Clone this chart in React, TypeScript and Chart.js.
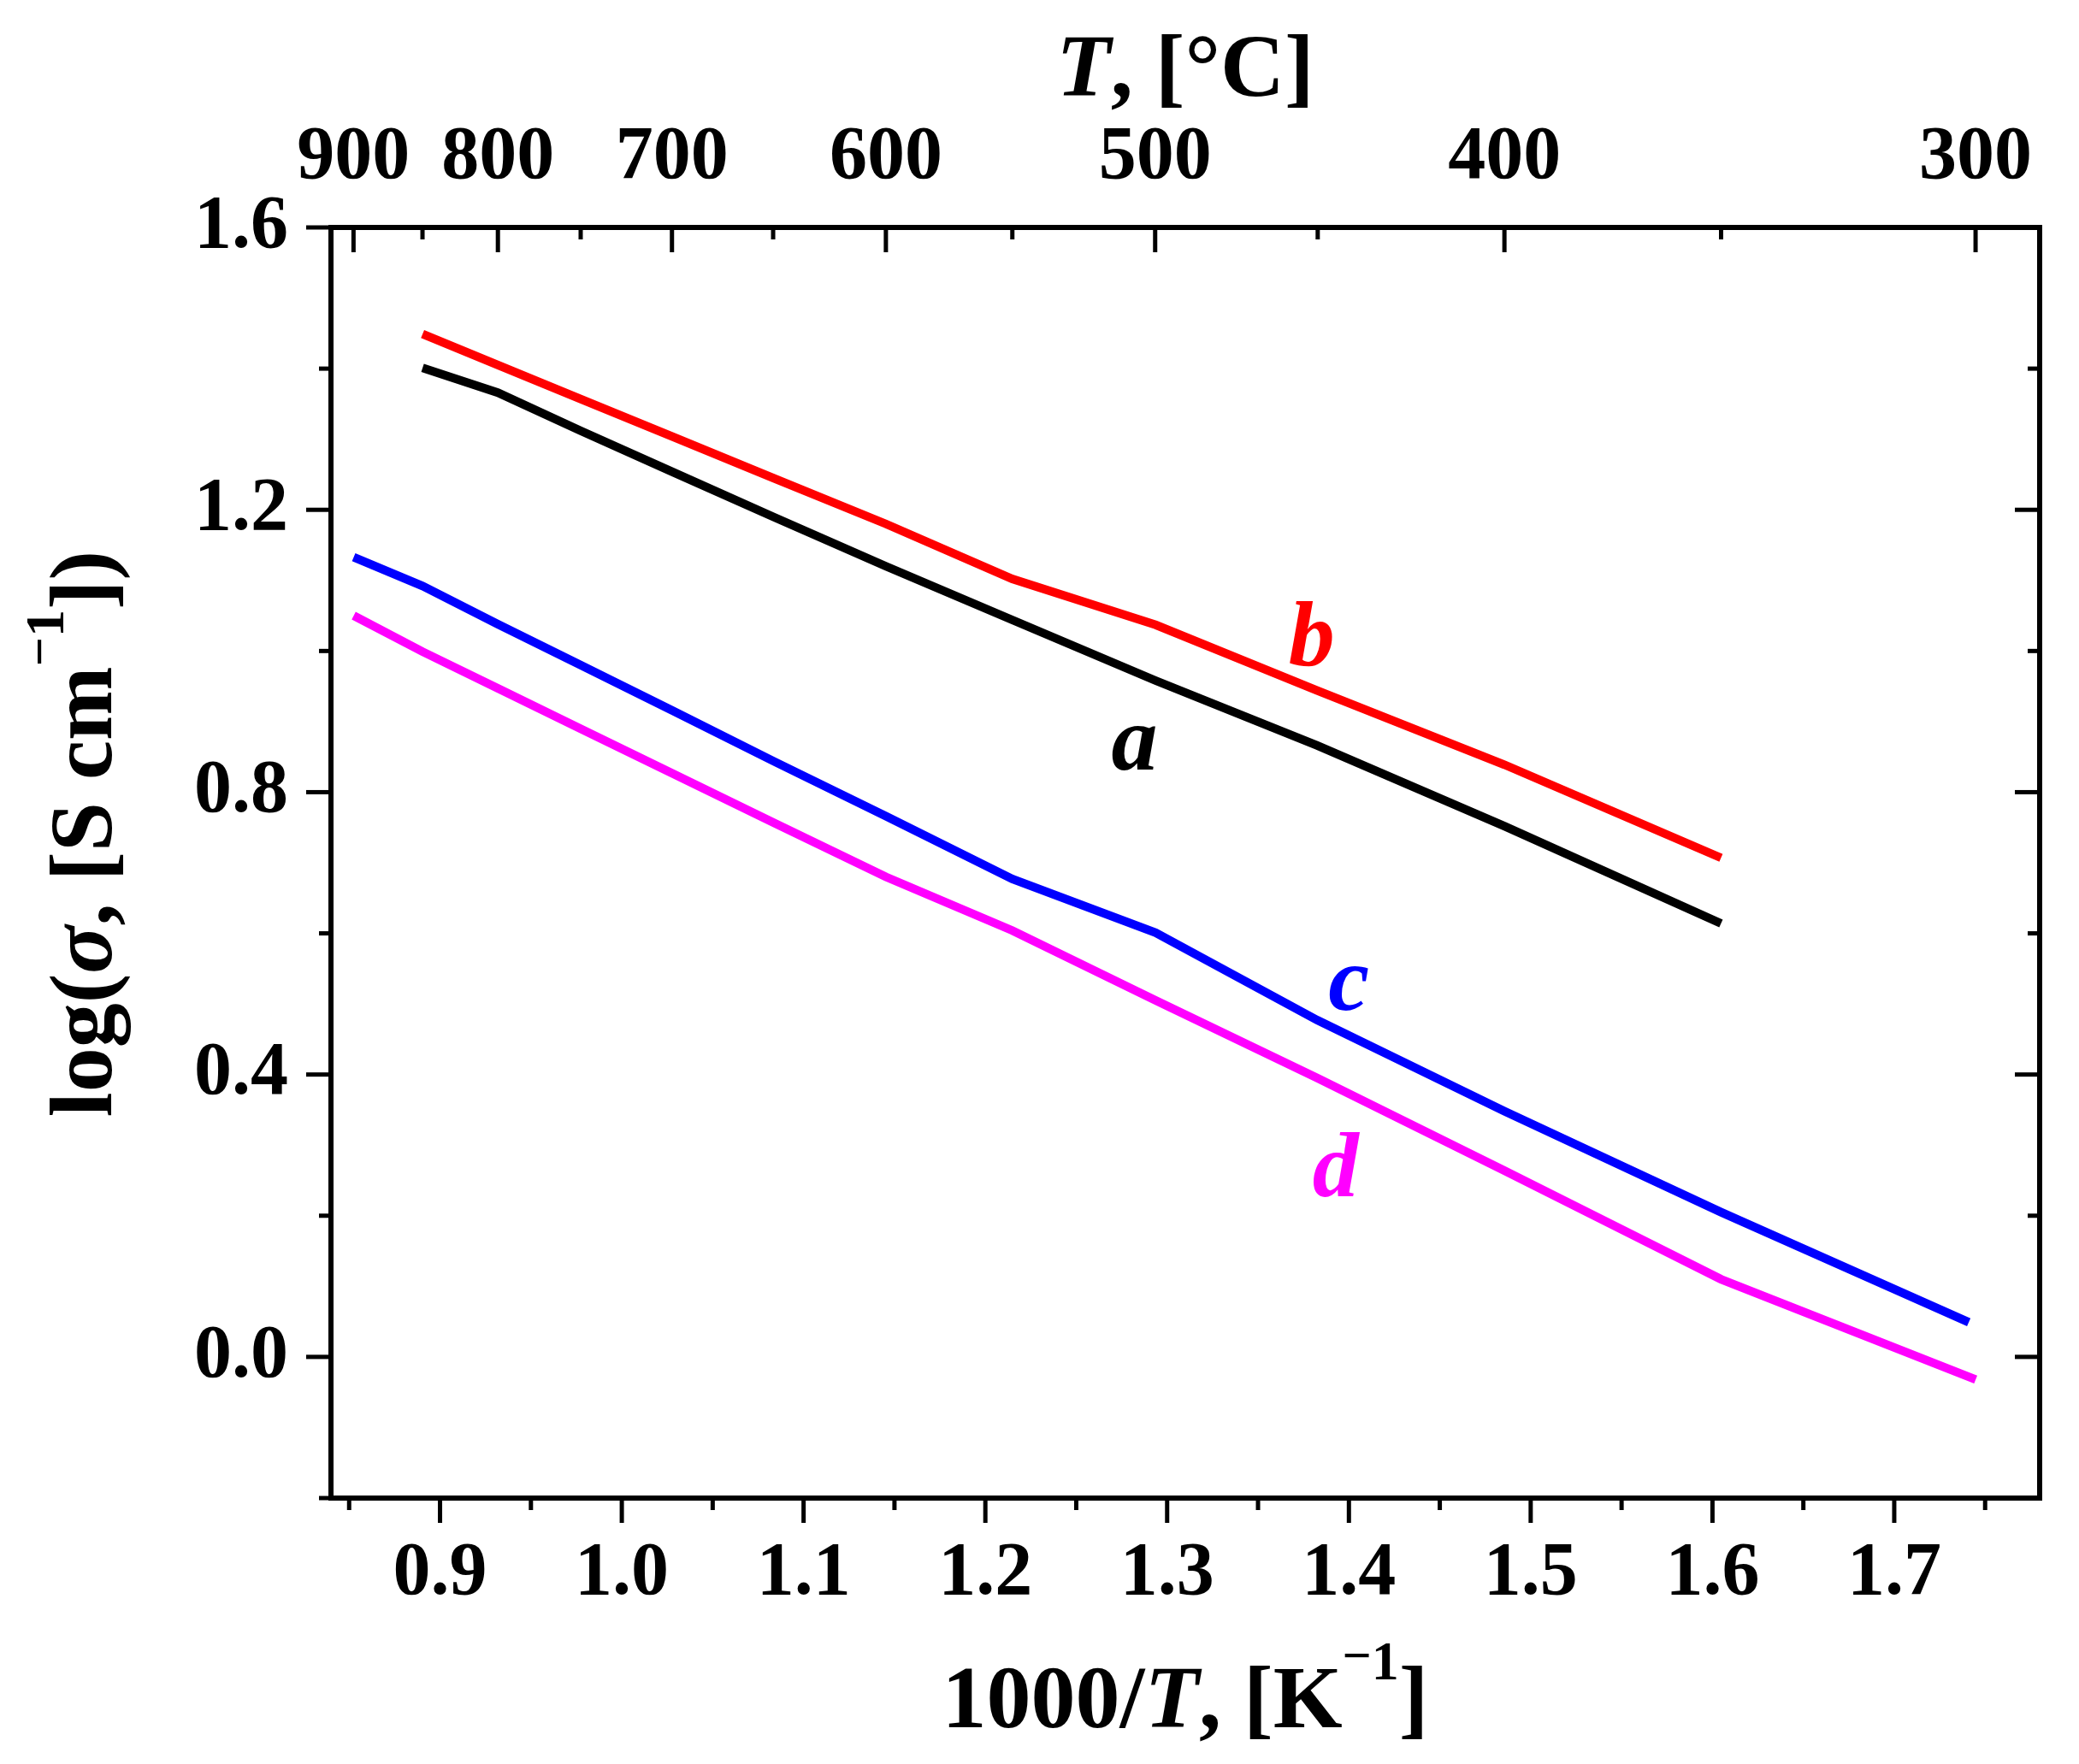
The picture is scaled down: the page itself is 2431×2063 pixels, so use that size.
import React, { useEffect, useRef } from "react";
import { Chart, registerables } from "chart.js";

Chart.register(...registerables);

// ---- data (1000/T in K^-1, log(sigma)) ----
const xAB = [0.8904, 0.9318, 0.9773, 1.0276, 1.0834, 1.1453, 1.2148, 1.2937, 1.3826, 1.4855, 1.6047];
const xC = [0.8525, 0.8904, 0.9318, 0.9773, 1.0276, 1.0834, 1.1453, 1.2148, 1.2937, 1.3826, 1.4855, 1.6047, 1.741];
const xD = [0.8525, 0.8904, 0.9318, 0.9773, 1.0276, 1.0834, 1.1453, 1.2148, 1.2937, 1.3826, 1.4855, 1.6047, 1.7448];

const seriesA = [1.401, 1.366, 1.312, 1.254, 1.19, 1.12, 1.044, 0.958, 0.866, 0.752, 0.614];
const seriesB = [1.449, 1.405, 1.357, 1.304, 1.245, 1.18, 1.102, 1.037, 0.944, 0.839, 0.707];
const seriesC = [1.133, 1.092, 1.038, 0.98, 0.916, 0.844, 0.766, 0.677, 0.601, 0.477, 0.348, 0.205, 0.049];
const seriesD = [1.05, 0.999, 0.947, 0.89, 0.827, 0.757, 0.68, 0.604, 0.505, 0.395, 0.264, 0.11, -0.032];

const seriesNames = ["a", "b", "c", "d"];
const seriesColors = ["#000000", "#ff0000", "#0000ff", "#ff00ff"];
// label anchor (data units): [x, y baseline]
const labelX = [1.282, 1.3795, 1.4, 1.3927];
const labelY = [0.832, 0.98, 0.492, 0.228];

// ---- axes ----
const bottomTicks = [0.9, 1.0, 1.1, 1.2, 1.3, 1.4, 1.5, 1.6, 1.7];
const bottomMinorTicks = [0.85, 0.95, 1.05, 1.15, 1.25, 1.35, 1.45, 1.55, 1.65, 1.75];
const leftTicks = [0.0, 0.4, 0.8, 1.2, 1.6];
const leftMinorTicks = [-0.2, 0.2, 0.6, 1.0, 1.4];
const topTempLabels = [900, 800, 700, 600, 500, 400, 300];
const topTempMinor = [850, 750, 650, 550, 450, 350];

const X_MIN = 0.84;
const X_MAX = 1.78;
const Y_MIN = -0.2;
const Y_MAX = 1.6;

const toInvT = (c: number) => 1000 / (c + 273.15);

const SERIF = "'Liberation Serif', 'Times New Roman', serif";

type Seg = { t: string; italic?: boolean; size?: number; dy?: number };

function drawRich(ctx: CanvasRenderingContext2D, segs: Seg[], cx: number, baseY: number, base: number) {
  const fontOf = (s: Seg) => `${s.italic ? "italic " : ""}bold ${s.size ?? base}px ${SERIF}`;
  let total = 0;
  const widths = segs.map((s) => {
    ctx.font = fontOf(s);
    const w = ctx.measureText(s.t).width;
    total += w;
    return w;
  });
  let x = cx - total / 2;
  ctx.textAlign = "left";
  ctx.textBaseline = "alphabetic";
  segs.forEach((s, i) => {
    ctx.font = fontOf(s);
    ctx.fillText(s.t, x, baseY - (s.dy ?? 0));
    x += widths[i];
  });
}

const decorPlugin = {
  id: "decor",
  afterDraw(chart: any) {
    const ctx: CanvasRenderingContext2D = chart.ctx;
    const { left, right, top, bottom } = chart.chartArea;
    const xs = chart.scales.x;
    const ys = chart.scales.y;
    const MAJ = 29;
    const MIN = 14;
    ctx.save();
    ctx.strokeStyle = "#000";
    ctx.fillStyle = "#000";
    ctx.lineCap = "butt";
    // ticks
    ctx.lineWidth = 5;
    const vt = (px: number, y0: number, y1: number) => {
      ctx.beginPath();
      ctx.moveTo(px, y0);
      ctx.lineTo(px, y1);
      ctx.stroke();
    };
    const ht = (py: number, x0: number, x1: number) => {
      ctx.beginPath();
      ctx.moveTo(x0, py);
      ctx.lineTo(x1, py);
      ctx.stroke();
    };
    bottomTicks.forEach((v) => vt(xs.getPixelForValue(v), bottom, bottom + MAJ));
    bottomMinorTicks.forEach((v) => vt(xs.getPixelForValue(v), bottom, bottom + MIN));
    topTempLabels.forEach((c) => vt(xs.getPixelForValue(toInvT(c)), top, top + MAJ));
    topTempMinor.forEach((c) => vt(xs.getPixelForValue(toInvT(c)), top, top + MIN));
    leftTicks.forEach((v) => {
      const p = ys.getPixelForValue(v);
      ht(p, left - MAJ, left);
      ht(p, right - MAJ, right);
    });
    leftMinorTicks.forEach((v) => {
      const p = ys.getPixelForValue(v);
      ht(p, left - MIN, left);
      ht(p, right - MIN, right);
    });
    // frame
    ctx.lineWidth = 6;
    ctx.lineJoin = "miter";
    ctx.strokeRect(left, top, right - left, bottom - top);

    // series letters
    ctx.textAlign = "center";
    ctx.textBaseline = "alphabetic";
    ctx.font = `italic bold 108px ${SERIF}`;
    seriesNames.forEach((n, i) => {
      ctx.fillStyle = seriesColors[i];
      ctx.fillText(n, xs.getPixelForValue(labelX[i]), ys.getPixelForValue(labelY[i]));
    });

    // titles
    ctx.fillStyle = "#000";
    const cxPlot = (left + right) / 2;
    drawRich(ctx, [{ t: "T", italic: true }, { t: ", [°C]" }], cxPlot, 112, 104);
    drawRich(
      ctx,
      [
        { t: "1000/" },
        { t: "T", italic: true },
        { t: ", [K" },
        { t: "\u2212", size: 60, dy: 64 },
        { t: "1", size: 64, dy: 56 },
        { t: "]" },
      ],
      cxPlot,
      2020,
      104
    );
    ctx.save();
    ctx.translate(130, 975);
    ctx.rotate(-Math.PI / 2);
    drawRich(
      ctx,
      [
        { t: "log(" },
        { t: "σ", italic: true },
        { t: ", [S cm" },
        { t: "\u2212", size: 60, dy: 64 },
        { t: "1", size: 64, dy: 56 },
        { t: "])" },
      ],
      0,
      0,
      104
    );
    ctx.restore();
    ctx.restore();
  },
};

const tickFont = { family: SERIF, size: 88, weight: "bold" as const };

export default function App() {
  const ref = useRef<HTMLCanvasElement>(null);
  useEffect(() => {
    const canvas = ref.current;
    if (!canvas) return;
    const mk = (xv: number[], yv: number[], i: number) => ({
      label: seriesNames[i],
      data: xv.map((x, k) => ({ x, y: yv[k] })),
      borderColor: seriesColors[i],
      backgroundColor: seriesColors[i],
      borderWidth: 10,
      pointRadius: 0,
      tension: 0,
      fill: false,
    });
    const chart = new Chart(canvas, {
      type: "line",
      data: {
        datasets: [mk(xAB, seriesA, 0), mk(xAB, seriesB, 1), mk(xC, seriesC, 2), mk(xD, seriesD, 3)],
      },
      options: {
        responsive: false,
        animation: false,
        devicePixelRatio: 1,
        layout: { padding: { left: 0, right: 46, top: 0, bottom: 0 } },
        plugins: { legend: { display: false }, tooltip: { enabled: false } },
        scales: {
          x: {
            type: "linear",
            position: "bottom",
            min: X_MIN,
            max: X_MAX,
            grid: { display: false, drawTicks: false },
            border: { display: false },
            ticks: {
              autoSkip: false,
              maxRotation: 0,
              padding: 36,
              color: "#000",
              font: tickFont,
              callback: (v: any) => Number(v).toFixed(1),
            },
            afterBuildTicks: (s: any) => {
              s.ticks = bottomTicks.map((v) => ({ value: v }));
            },
            afterFit: (s: any) => {
              s.height = 311;
            },
          },
          xTop: {
            type: "linear",
            position: "top",
            min: X_MIN,
            max: X_MAX,
            grid: { display: false, drawTicks: false },
            border: { display: false },
            ticks: {
              autoSkip: false,
              maxRotation: 0,
              padding: 28,
              color: "#000",
              font: tickFont,
              callback: (_v: any, i: number) => String(topTempLabels[i]),
            },
            afterBuildTicks: (s: any) => {
              s.ticks = topTempLabels.map((c) => ({ value: toInvT(c) }));
            },
            afterFit: (s: any) => {
              s.height = 266;
            },
          },
          y: {
            type: "linear",
            position: "left",
            min: Y_MIN,
            max: Y_MAX,
            grid: { display: false, drawTicks: false },
            border: { display: false },
            ticks: {
              autoSkip: false,
              padding: 50,
              color: "#000",
              font: tickFont,
              callback: (v: any) => Number(v).toFixed(1),
            },
            afterBuildTicks: (s: any) => {
              s.ticks = leftTicks.map((v) => ({ value: v }));
            },
            afterFit: (s: any) => {
              s.width = 387;
            },
          },
        },
      } as any,
      plugins: [decorPlugin],
    });
    return () => chart.destroy();
  }, []);
  return (
    <div style={{ position: "absolute", left: 0, top: 0, width: 2431, height: 2063, background: "#fff" }}>
      <canvas ref={ref} width={2431} height={2063} style={{ display: "block" }} />
    </div>
  );
}
